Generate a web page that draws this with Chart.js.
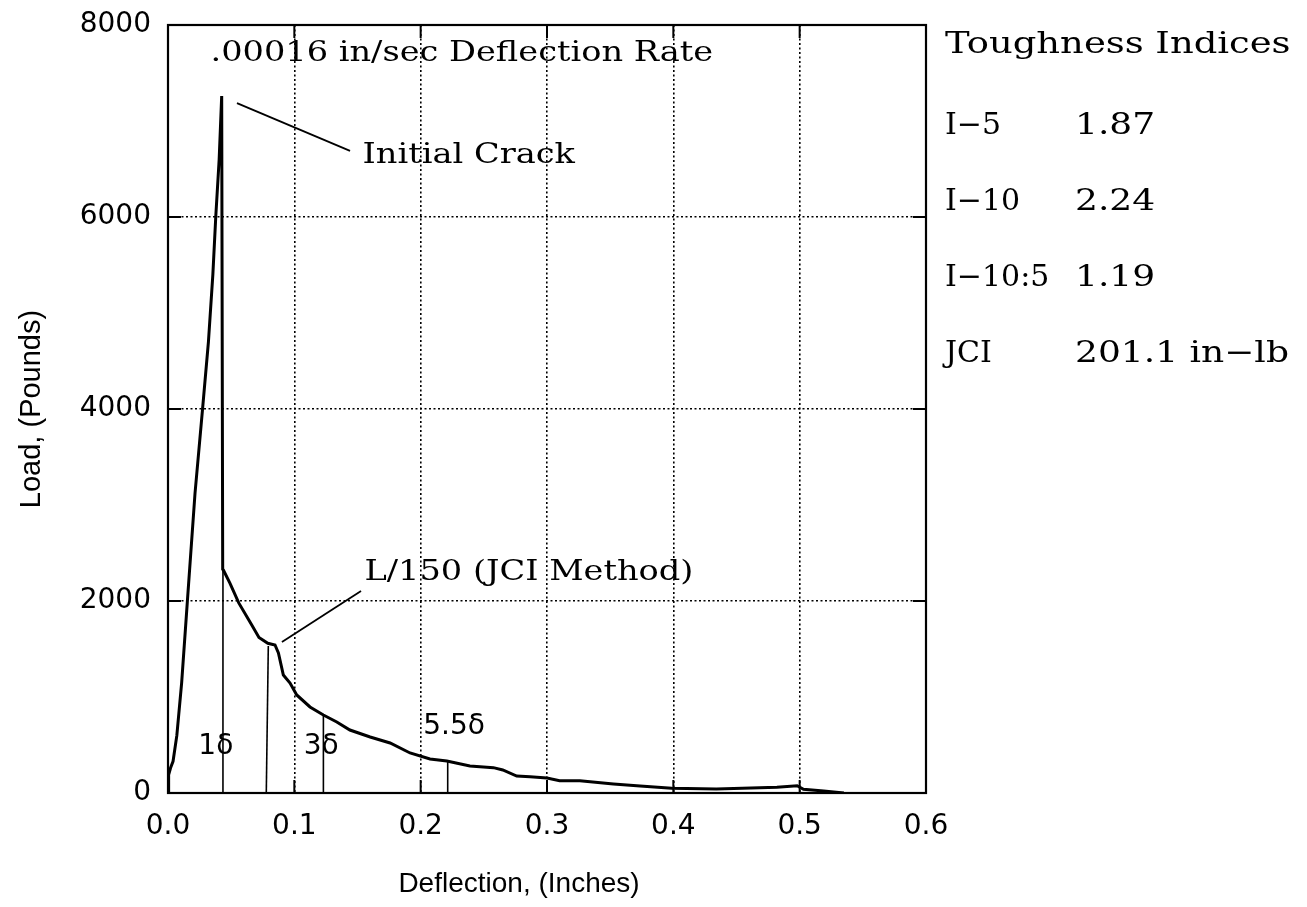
<!DOCTYPE html>
<html><head><meta charset="utf-8">
<script src="https://cdn.jsdelivr.net/npm/chart.js@4.4.1/dist/chart.umd.min.js"></script>
<style>html,body{margin:0;padding:0;background:#fff}</style>
</head><body>
<canvas id="c" width="1307" height="907"></canvas>
<script>
// Load–deflection curve
const deflection = [0, 0.0005, 0.002, 0.004, 0.007, 0.0108, 0.0153, 0.0214, 0.0272, 0.0320, 0.0355, 0.0378, 0.0405, 0.0425,
  0.0433, 0.0438, 0.049, 0.056, 0.0663, 0.072, 0.079, 0.0847, 0.0874, 0.0913, 0.0966, 0.1019, 0.1124, 0.123, 0.1336, 0.144,
  0.160, 0.1758, 0.1916, 0.2074, 0.2207, 0.239, 0.2576, 0.265, 0.276, 0.2866, 0.300, 0.310, 0.326, 0.3526, 0.3737, 0.3988,
  0.434, 0.482, 0.498, 0.503, 0.519, 0.535];
const load = [0, 190, 260, 330, 600, 1146, 1990, 3125, 3979, 4700, 5400, 6000, 6600, 7260,
  2330, 2323, 2187, 1980, 1750, 1620, 1560, 1542, 1458, 1229, 1146, 1021, 896, 812, 740, 656,
  583, 521, 417, 354, 333, 281, 264, 240, 177, 170, 156, 128, 128, 94, 73, 49,
  42, 59, 76, 38, 21, 0];

// Vertical marker lines (deflection at 1δ, L/150, 3δ, 5.5δ) and the load where they meet the curve
const markerX = [0.0435, 0.0778, 0.123, 0.2214];
const markerTopX = [0.0435, 0.0794, 0.123, 0.2214];
const markerTop = [2323, 1531, 812, 333];

// Ticks
const xTicks = [0, 0.1, 0.2, 0.3, 0.4, 0.5, 0.6];
const yTicks = [0, 2000, 4000, 6000, 8000];

// Toughness indices table
const indexNames = ["I−5", "I−10", "I−10:5", "JCI"];
const indexValues = ["1.87", "2.24", "1.19", "201.1 in−lb"];

// Annotation leader lines in data units
const leaderCrack = [[0.0546, 7187], [0.1441, 6688]];
const leaderL150 = [[0.1528, 2104], [0.0902, 1573]];

const curve = deflection.map((x, i) => ({x, y: load[i]}));
const markerSets = markerX.map((x, i) => ({
  data: [{x, y: 0}, {x: markerTopX[i], y: markerTop[i]}],
  borderColor: '#000', borderWidth: 1.6, pointRadius: 0, showLine: true, tension: 0
}));
const leaderSets = [leaderCrack, leaderL150].map(l => ({
  data: l.map(p => ({x: p[0], y: p[1]})),
  borderColor: '#000', borderWidth: 1.8, pointRadius: 0, showLine: true, tension: 0
}));

const serif = '"DejaVu Serif", "Liberation Serif", serif';
const sans = '"DejaVu Sans", sans-serif';
const narrow = '"Liberation Sans Narrow", "Liberation Sans", sans-serif';

function wideText(ctx, text, x, y, sx) {
  ctx.save();
  ctx.translate(x, y);
  ctx.scale(sx, 1);
  ctx.fillText(text, 0, 0);
  ctx.restore();
}

const overlay = {
  id: 'overlay',
  afterDraw(chart) {
    const {ctx, chartArea: a, scales: {x, y}} = chart;
    ctx.save();
    // frame
    ctx.strokeStyle = '#000'; ctx.lineWidth = 2.2; ctx.setLineDash([]);
    ctx.strokeRect(a.left, a.top, a.right - a.left, a.bottom - a.top);
    // inner ticks
    ctx.lineWidth = 2;
    const tl = 13;
    xTicks.forEach(v => {
      const px = x.getPixelForValue(v);
      ctx.beginPath(); ctx.moveTo(px, a.bottom); ctx.lineTo(px, a.bottom - tl);
      ctx.moveTo(px, a.top); ctx.lineTo(px, a.top + tl); ctx.stroke();
    });
    yTicks.forEach(v => {
      const py = y.getPixelForValue(v);
      ctx.beginPath(); ctx.moveTo(a.left, py); ctx.lineTo(a.left + tl, py);
      ctx.moveTo(a.right, py); ctx.lineTo(a.right - tl, py); ctx.stroke();
    });
    ctx.fillStyle = '#000';
    ctx.textBaseline = 'middle'; ctx.textAlign = 'left';
    // annotations
    ctx.font = '28px ' + serif;
    wideText(ctx, '.00016 in/sec Deflection Rate', x.getPixelForValue(0.0336), y.getPixelForValue(7698), 1.2);
    wideText(ctx, 'Initial Crack', x.getPixelForValue(0.154), y.getPixelForValue(6635), 1.2);
    wideText(ctx, 'L/150 (JCI Method)', x.getPixelForValue(0.1555), y.getPixelForValue(2292), 1.2);
    ctx.font = '28px ' + sans;
    ctx.fillText('1δ', x.getPixelForValue(0.0240), y.getPixelForValue(479));
    ctx.fillText('3δ', x.getPixelForValue(0.1075), y.getPixelForValue(479));
    ctx.fillText('5.5δ', x.getPixelForValue(0.2020), y.getPixelForValue(687));
    // side table
    const tx = a.right + 19;
    ctx.font = '30px ' + serif;
    wideText(ctx, 'Toughness Indices', tx, 45, 1.23);
    indexNames.forEach((n, i) => {
      const ty = 126 + i * 76;
      wideText(ctx, n, tx, ty, 1.0);
      wideText(ctx, indexValues[i], a.right + 149, ty, 1.2);
    });
    // axis titles
    ctx.font = '28px ' + narrow;
    ctx.textAlign = 'center';
    ctx.fillText('Deflection, (Inches)', 519, 884);
    ctx.translate(32, (a.top + a.bottom) / 2);
    ctx.rotate(-Math.PI / 2);
    ctx.font = '29px ' + narrow;
    ctx.fillText('Load, (Pounds)', 0, 0);
    ctx.restore();
  }
};

new Chart(document.getElementById('c'), {
  type: 'scatter',
  data: {datasets: [
    {data: curve, borderColor: '#000', borderWidth: 3, pointRadius: 0, showLine: true, tension: 0},
    ...markerSets, ...leaderSets
  ]},
  options: {
    responsive: false, animation: false, devicePixelRatio: 1,
    layout: {padding: {left: 0, top: 25, right: 381, bottom: 0}},
    plugins: {legend: {display: false}, tooltip: {enabled: false}},
    scales: {
      x: {type: 'linear', min: 0, max: 0.6,
        afterFit: s => { s.height = 114; s.paddingLeft = 0; s.paddingRight = 0; },
        afterBuildTicks: s => { s.ticks = xTicks.map(v => ({value: v})); },
        ticks: {color: '#000', font: {family: sans, size: 28}, padding: 17, maxRotation: 0,
          callback: v => v.toFixed(1)},
        grid: {color: '#000', lineWidth: 1.6, drawTicks: false},
        border: {display: false, dash: [2, 2.5]}
      },
      y: {type: 'linear', min: 0, max: 8000,
        afterFit: s => { s.width = 168; s.paddingTop = 0; s.paddingBottom = 0; },
        afterBuildTicks: s => { s.ticks = yTicks.map(v => ({value: v})); },
        ticks: {color: '#000', font: {family: sans, size: 28}, padding: 17,
          callback: v => String(v)},
        grid: {color: '#000', lineWidth: 1.6, drawTicks: false},
        border: {display: false, dash: [2, 2.5]}
      }
    }
  },
  plugins: [overlay]
});
</script>
</body></html>
